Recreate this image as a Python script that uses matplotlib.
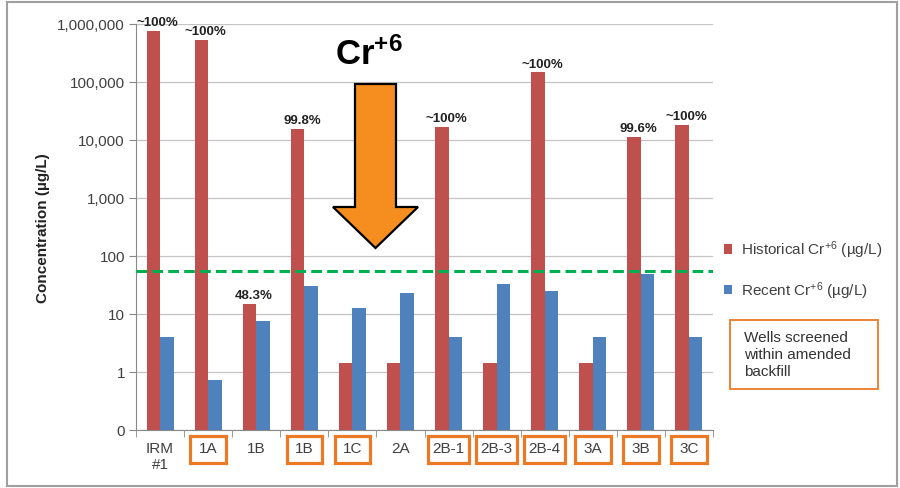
''' Cr+6 historical vs recent concentrations by well '''

import numpy as np
import matplotlib.pyplot as plt
from matplotlib.patches import Rectangle, Polygon
from matplotlib.transforms import blended_transform_factory

plt.rcParams['font.family'] = ['Liberation Sans', 'DejaVu Sans']
plt.rcParams['mathtext.fontset'] = 'custom'
plt.rcParams['mathtext.rm'] = 'Liberation Sans'
plt.rcParams['mathtext.it'] = 'Liberation Sans:italic'
plt.rcParams['mathtext.bf'] = 'Liberation Sans:bold'

wells = ['IRM\n#1', '1A', '1B', '1B', '1C', '2A', '2B-1', '2B-3', '2B-4', '3A', '3B', '3C']
in_backfill = [False, True, False, True, True, False, True, True, True, True, True, True]
historical = [760000, 530000, 15, 15700, 1.45, 1.45, 17000, 1.45, 147000, 1.45, 11400, 18000]
recent = [4, 0.72, 7.6, 31, 12.5, 23, 4, 33, 25, 4, 49, 4]
reduction = ['~100%', '~100%', '48.3%', '99.8%', '', '', '~100%', '', '~100%', '', '99.6%', '~100%']
threshold = 56
yticks = [0.1, 1, 10, 100, 1000, 10000, 100000, 1000000]
ytick_labels = ['0', '1', '10', '100', '1,000', '10,000', '100,000', '1,000,000']

RED = '#C0504D'
BLUE = '#4F81BD'
ORANGE = '#EB7A26'
TXT = '#404040'
W, H = 900, 489


def fx(px):
    return px / W


def fy(py):
    return 1 - py / H


fig = plt.figure(figsize=(9, 4.89), dpi=100)
ax = fig.add_axes([fx(136), fy(431), (713 - 136) / W, (431 - 25) / H])

x = np.arange(len(wells))
bw = 0.28
b1 = ax.bar(x - bw / 2, historical, bw, color=RED, zorder=3)
b2 = ax.bar(x + bw / 2, recent, bw, color=BLUE, zorder=3)

ax.set_yscale('log')
ax.set_ylim(0.1, 1e6)
ax.set_xlim(-0.5, len(wells) - 0.5)
ax.set_yticks(yticks)
ax.set_yticklabels(ytick_labels)
ax.minorticks_off()
ax.tick_params(axis='y', length=5, color='#888888', labelcolor=TXT, labelsize=11, pad=3)

ax.set_xticks(x)
ax.set_xticklabels(wells, linespacing=1.15)
ax.set_xticks(np.arange(len(wells) + 1) - 0.5, minor=True)
ax.tick_params(axis='x', which='major', length=0, labelcolor=TXT, labelsize=11, pad=8)
ax.tick_params(axis='x', which='minor', length=5, color='#888888')

ax.grid(axis='y', color='#C4C4C4', linewidth=0.9, zorder=0)
ax.set_axisbelow(True)
for s in ['top', 'right']:
    ax.spines[s].set_visible(False)
for s in ['left', 'bottom']:
    ax.spines[s].set_color('#888888')

ax.set_ylabel('Concentration (µg/L)', fontsize=11, fontweight='bold', color='#222222')
ax.yaxis.set_label_coords((50 - 136) / (713 - 136), 0.5)

# green threshold line
ax.axhline(threshold, color='#00B050', linewidth=2.2, linestyle=(0, (3.5, 1.7)), zorder=4)

# percent reductions
for i, lab in enumerate(reduction):
    if lab:
        ax.annotate(lab, (i - 0.05, historical[i]), xytext=(0, 2), textcoords='offset points',
                    ha='center', va='bottom', fontsize=9.5, fontweight='bold', color='#222222',
                    annotation_clip=False)

# orange boxes around wells screened in amended backfill
tr = blended_transform_factory(ax.transData, ax.transAxes)
for i, lab in enumerate(wells):
    if in_backfill[i]:
        bwid = 0.62 + 0.06 * len(lab)
        ax.add_patch(Rectangle((i - bwid / 2, -(464 - 431) / 406), bwid, 27 / 406,
                               transform=tr, fill=False, edgecolor=ORANGE,
                               linewidth=2.3, clip_on=False))

# big arrow + label
pts = [(355, 85), (396, 85), (396, 208), (418, 208), (375.5, 249), (333, 208), (355, 208)]
fig.patches.append(Polygon([(fx(a), fy(b)) for a, b in pts], closed=True, transform=fig.transFigure,
                           facecolor='#F68E1F', edgecolor='black', linewidth=1.6, zorder=5))
fig.text(fx(369), fy(65), r'$\mathbf{Cr^{+6}}$', fontsize=25, ha='center', va='baseline', color='black')

# legend
fig.legend([b1, b2], ['Historical Cr$^{+6}$ (µg/L)', 'Recent Cr$^{+6}$ (µg/L)'],
           loc='upper left', bbox_to_anchor=(fx(710), fy(226)), frameon=False, fontsize=11,
           handlelength=0.55, handleheight=0.55, handletextpad=0.6, labelspacing=1.25,
           labelcolor=TXT)

fig.patches.append(Rectangle((fx(730), fy(390)), (878 - 730) / W, (390 - 321) / H,
                             transform=fig.transFigure, fill=False, edgecolor=ORANGE, linewidth=1.3))
fig.text(fx(744), fy(331), 'Wells screened\nwithin amended\nbackfill', fontsize=11,
         ha='left', va='top', linespacing=1.28, color='#333333')

# outer frame
fig.patches.append(Rectangle((fx(7), fy(487)), (897 - 7) / W, (487 - 3) / H,
                             transform=fig.transFigure, fill=False, edgecolor='#A0A0A0', linewidth=1.5))

fig.savefig('out.png', dpi=100)
